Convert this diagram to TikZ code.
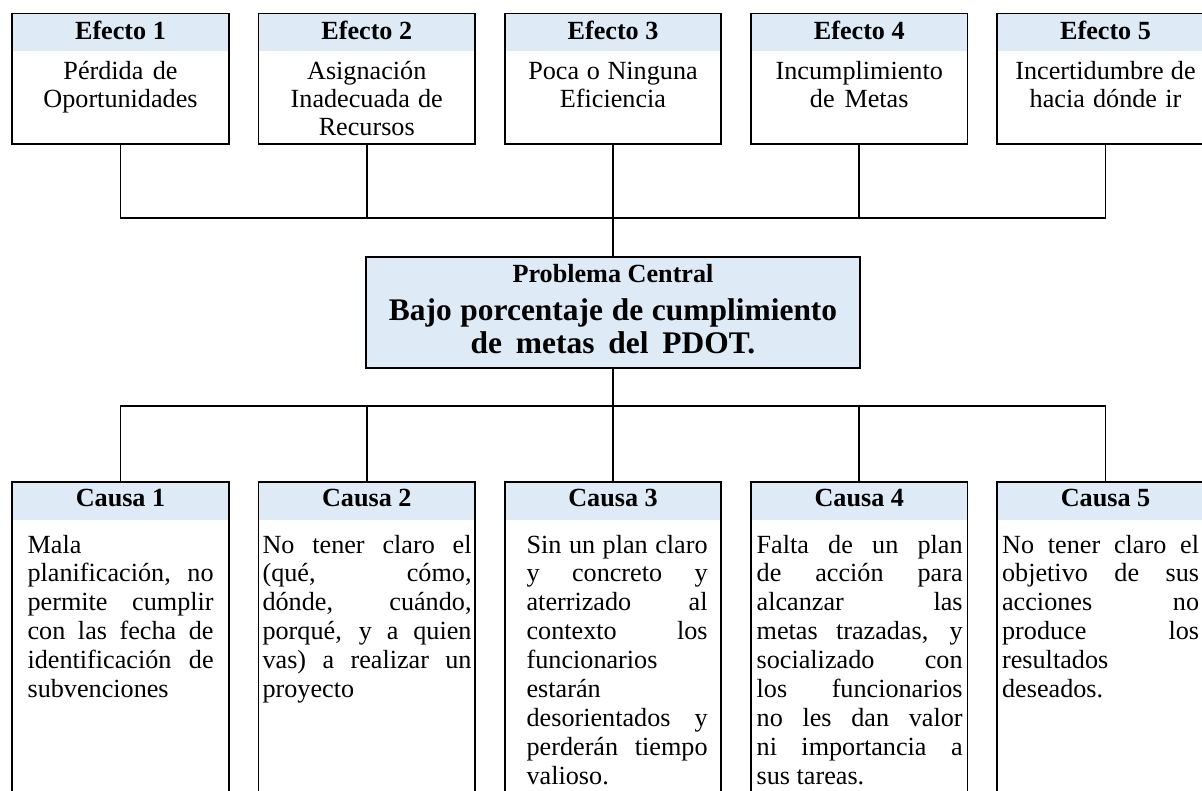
\documentclass[tikz,border=0pt]{standalone}
\usepackage{fontspec}
\setmainfont{Liberation Serif}
\usepackage{tikz}
\usetikzlibrary{positioning,calc}
\definecolor{hdrBlue}{RGB}{222,234,246}
\newcommand{\jline}[1]{\leavevmode\hbox to\hsize{\spaceskip=0pt\xspaceskip=0pt #1}}
\tikzset{
  box/.style={draw,line width=1.1pt,minimum width=4.33cm,inner sep=0pt,outer sep=0pt,anchor=north,
              path picture={\fill[hdrBlue] (path picture bounding box.north west)
                rectangle ([yshift=-0.76cm]path picture bounding box.north east);}},
  effbox/.style={box,minimum height=2.61cm},
  caubox/.style={box,minimum height=6.6cm},
  hdr/.style={anchor=base,inner sep=0pt,font=\fontsize{14.9}{16}\selectfont\bfseries},
  efftxt/.style={anchor=base,inner sep=0pt,text width=4.1cm,align=center,
                 font=\fontsize{14.9}{15.7}\selectfont,
                 execute at begin node={\spaceskip=0pt\xspaceskip=0pt}},
  cautxt/.style={anchor=base west,inner sep=0pt,align=left,
                 font=\fontsize{14.9}{16.5}\selectfont,
                 execute at begin node={\spaceskip=0pt\xspaceskip=0pt}},
  probbox/.style={draw,line width=1.1pt,fill=hdrBlue,minimum width=9.87cm,
                  minimum height=2.23cm,inner sep=0pt,outer sep=0pt,anchor=north},
  conn/.style={line width=1pt},
}

\begin{document}
\begin{tikzpicture}
  \useasboundingbox (0,0) rectangle (24.04,-15.82);
  \clip (0,0) rectangle (24.04,-15.82);

  % efectos
  \node[effbox] (e1) at (2.41,-0.27) {};
  \node[effbox,right=0.595cm of e1] (e2) {};
  \node[effbox,right=0.595cm of e2] (e3) {};
  \node[effbox,right=0.595cm of e3] (e4) {};
  \node[effbox,right=0.595cm of e4] (e5) {};

  \node[hdr] (e1h) at ([yshift=-0.516cm]e1.north) {Efecto 1};
  \node[hdr] (e2h) at ([yshift=-0.516cm]e2.north) {Efecto 2};
  \node[hdr] (e3h) at ([yshift=-0.516cm]e3.north) {Efecto 3};
  \node[hdr] (e4h) at ([yshift=-0.516cm]e4.north) {Efecto 4};
  \node[hdr] (e5h) at ([yshift=-0.516cm]e5.north) {Efecto 5};

  \node[efftxt] (e1t) at ([yshift=-1.33cm]e1.north) {Pérdida de\\Oportunidades};
  \node[efftxt] (e2t) at ([yshift=-1.33cm]e2.north) {Asignación\\Inadecuada de\\Recursos};
  \node[efftxt] (e3t) at ([yshift=-1.33cm]e3.north) {Poca o Ninguna\\Eficiencia};
  \node[efftxt] (e4t) at ([yshift=-1.33cm]e4.north) {Incumplimiento\\de Metas};
  \node[efftxt] (e5t) at ([yshift=-1.33cm]e5.north) {Incertidumbre de\\hacia dónde ir};

  % problema central
  \node[probbox,below=2.254cm of e3] (prob) {};
  \node[hdr] (probh) at ([yshift=-0.52cm]prob.north) {Problema Central};
  \node[anchor=base,inner sep=0pt,text width=9.5cm,align=center,
        font=\fontsize{17.9}{19}\selectfont\bfseries,
        execute at begin node={\spaceskip=0pt\xspaceskip=0pt}] (probt)
        at ([yshift=-1.266cm]prob.north) {Bajo porcentaje de cumplimiento\\de metas del PDOT.};

  % causas
  \node[caubox,below=6.754cm of e1] (c1) {};
  \node[caubox,right=0.595cm of c1] (c2) {};
  \node[caubox,right=0.595cm of c2] (c3) {};
  \node[caubox,right=0.595cm of c3] (c4) {};
  \node[caubox,right=0.595cm of c4] (c5) {};

  \node[hdr] (c1h) at ([yshift=-0.50cm]c1.north) {Causa 1};
  \node[hdr] (c2h) at ([yshift=-0.50cm]c2.north) {Causa 2};
  \node[hdr] (c3h) at ([yshift=-0.50cm]c3.north) {Causa 3};
  \node[hdr] (c4h) at ([yshift=-0.50cm]c4.north) {Causa 4};
  \node[hdr] (c5h) at ([yshift=-0.50cm]c5.north) {Causa 5};

  \node[cautxt,text width=3.72cm] (c1t) at ([xshift=0.30cm,yshift=-1.426cm]c1.north west)
    {Mala\\\jline{planificación, no}\\\jline{permite cumplir}\\\jline{con las fecha de}\\
     \jline{identificación de}\\subvenciones};
  \node[cautxt,text width=4.18cm] (c2t) at ([xshift=0.074cm,yshift=-1.426cm]c2.north west)
    {\jline{No tener claro el}\\\jline{(qué, cómo,}\\\jline{dónde, cuándo,}\\
     \jline{porqué, y a quien}\\\jline{vas) a realizar un}\\proyecto};
  \node[cautxt,text width=3.62cm] (c3t) at ([xshift=0.43cm,yshift=-1.426cm]c3.north west)
    {\jline{Sin un plan claro}\\\jline{y concreto y}\\\jline{aterrizado al}\\
     \jline{contexto los}\\funcionarios\\estarán\\\jline{desorientados y}\\
     \jline{perderán tiempo}\\valioso.};
  \node[cautxt,text width=4.12cm] (c4t) at ([xshift=0.106cm,yshift=-1.426cm]c4.north west)
    {\jline{Falta de un plan}\\\jline{de acción para}\\\jline{alcanzar las}\\
     \jline{metas trazadas, y}\\\jline{socializado con}\\\jline{los funcionarios}\\
     \jline{no les dan valor}\\\jline{ni importancia a}\\sus tareas.};
  \node[cautxt,text width=3.94cm] (c5t) at ([xshift=0.09cm,yshift=-1.426cm]c5.north west)
    {\jline{No tener claro el}\\\jline{objetivo de sus}\\\jline{acciones no}\\
     \jline{produce los}\\resultados\\deseados.};

  % conectores
  \coordinate (topbus) at ($(prob.north)+(0,0.768)$);
  \coordinate (botbus) at ($(prob.south)+(0,-0.756)$);
  \draw[conn] (e1.south) |- (topbus) -| (e5.south);
  \draw[conn] (e2.south) -- (e2.south |- topbus);
  \draw[conn] (e3.south) -- (e3.south |- prob.north);
  \draw[conn] (e4.south) -- (e4.south |- topbus);
  \draw[conn] (c1.north) |- (botbus) -| (c5.north);
  \draw[conn] (c2.north) -- (c2.north |- botbus);
  \draw[conn] (c3.north) -- (c3.north |- prob.south);
  \draw[conn] (c4.north) -- (c4.north |- botbus);
\end{tikzpicture}
\end{document}
